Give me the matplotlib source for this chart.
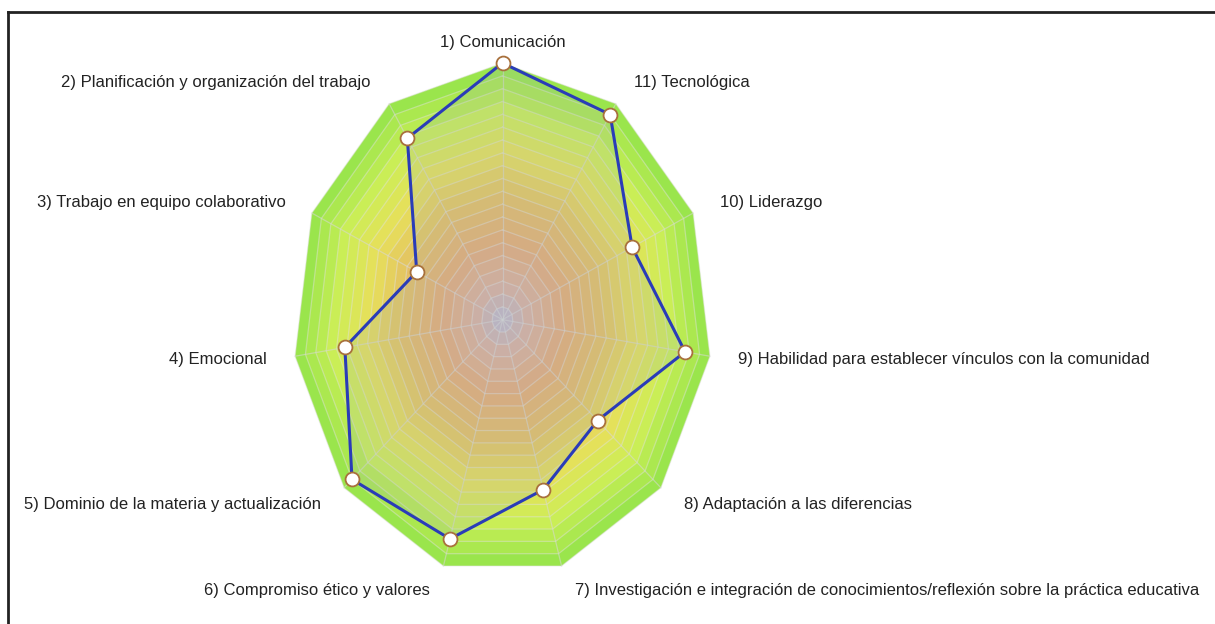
import numpy as np
import matplotlib
matplotlib.use("Agg")
import matplotlib.pyplot as plt
from matplotlib.colors import LinearSegmentedColormap
from matplotlib.lines import Line2D

plt.rcParams['font.family'] = ['Liberation Sans', 'DejaVu Sans']

# competencias, en el orden de los ejes (antihorario desde arriba)
etiquetas = [
    "1) Comunicación",
    "2) Planificación y organización del trabajo",
    "3) Trabajo en equipo colaborativo",
    "4) Emocional",
    "5) Dominio de la materia y actualización",
    "6) Compromiso ético y valores",
    "7) Investigación e integración de conocimientos/reflexión sobre la práctica educativa",
    "8) Adaptación a las diferencias",
    "9) Habilidad para establecer vínculos con la comunidad",
    "10) Liderazgo",
    "11) Tecnológica",
]
valores = [100, 84, 45, 76, 95, 89, 69, 60, 88, 68, 95]
escala_max = 100
n_anillos = 20

n = len(etiquetas)
ang = np.pi / 2 + np.arange(n) * 2 * np.pi / n
ca, sa = np.cos(ang), np.sin(ang)

fig = plt.figure(figsize=(12.15, 6.24), dpi=100)
ax = fig.add_axes([0, 0, 1, 1])
ax.set_xlim(-502.5 / 209.6, (1215 - 502.5) / 209.6)
ax.set_ylim((319.7 - 624) / 256.7, 319.7 / 256.7)
ax.axis('off')

# fondo degradado por anillos
cmap = LinearSegmentedColormap.from_list("fondo", [
    (0.0, '#bcb6cc'), (0.12, '#d8b0a2'), (0.3, '#e4aa78'),
    (0.5, '#e4c262'), (0.66, '#e6e05a'), (0.82, '#ccee56'), (1.0, '#93e44a')])
for i in range(n_anillos, 0, -1):
    r = i / n_anillos
    ax.fill(r * ca, r * sa, color=cmap((i - 0.5) / n_anillos), lw=0, zorder=1)

# rejilla
for i in range(1, n_anillos + 1):
    r = i / n_anillos
    ax.plot(np.append(r * ca, r * ca[0]), np.append(r * sa, r * sa[0]),
            color='#e2e2e2', lw=0.9, alpha=0.45, zorder=2)
for c, s in zip(ca, sa):
    ax.plot([0, c], [0, s], color='#d8d8d8', lw=0.9, alpha=0.55, zorder=2)

# serie
v = np.array(valores) / escala_max
xs, ys = v * ca, v * sa
ax.fill(xs, ys, color='#9aaeb6', alpha=0.2, lw=0, zorder=3)
ax.plot(np.append(xs, xs[0]), np.append(ys, ys[0]), color='#2a3cb8', lw=2.2, zorder=4)
ax.plot(xs, ys, 'o', ms=10, mfc='white', mec='#a8703c', mew=1.3, zorder=5)

# etiquetas
for k, txt in enumerate(etiquetas):
    c, s = ca[k], sa[k]
    if abs(c) < 1e-6:
        ax.text(1.08 * c, 1.08 * s, txt, ha='center', va='center', fontsize=12, color='#222222')
    else:
        ha = 'left' if c > 0 else 'right'
        ax.text(1.1 * c + 0.035 * np.sign(c), 1.1 * s, txt, ha=ha, va='center',
                fontsize=12, color='#222222')

# marco
fig.add_artist(Line2D([8 / 1215, 1], [1 - 12 / 624, 1 - 12 / 624], color='#222222', lw=2))
fig.add_artist(Line2D([8 / 1215, 8 / 1215], [0, 1 - 12 / 624], color='#222222', lw=2))

fig.savefig("out.png", dpi=100)
